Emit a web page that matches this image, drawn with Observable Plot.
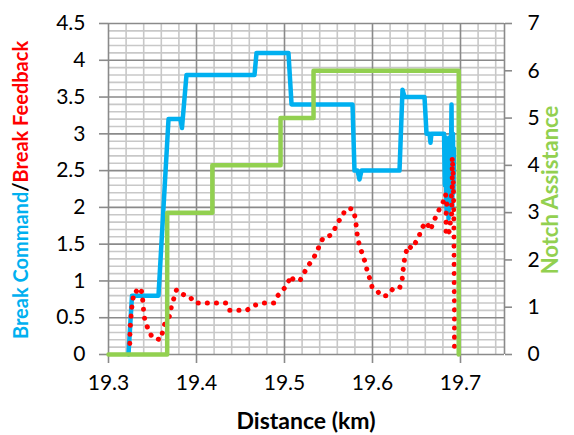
<!DOCTYPE html>
<html><head><meta charset="utf-8">
<script src="https://cdn.jsdelivr.net/npm/d3@7"></script>
<script src="https://cdn.jsdelivr.net/npm/@observablehq/plot@0.6"></script>
<style>
body{margin:0;background:#fff}
#chart{width:574px;height:435px}
</style>
</head><body><div id="chart"></div>
<script>
// ---- data ----
const commandKm = [19.3227,19.3267,19.3568,19.3682,19.3818,19.3835,19.3886,19.4659,19.4682,19.5045,19.5080,19.5773,19.5795,19.5830,19.5852,19.5875,19.6307,19.6341,19.6364,19.6591,19.6614,19.6648,19.6659,19.6670,19.6813,
  19.6822,19.6830,19.6841,19.6852,19.6864,19.6875,19.6886,19.6898,19.6906,19.6914,19.6920,19.6926];
const commandVal = [0,0.8,0.8,3.2,3.2,3.08,3.8,3.8,4.1,4.1,3.4,3.4,2.5,2.5,2.38,2.5,2.5,3.6,3.5,3.5,3.0,3.0,2.88,3.0,3.0,
  2.3,2.95,1.95,2.9,1.85,2.95,2.1,3.4,2.0,3.0,2.2,2.8];

const feedbackKm = [19.3242,19.3244,19.3250,19.3258,19.3269,19.3288,19.3307,19.3330,19.3352,19.3364,19.3375,
  19.3394,19.3401,19.3420,19.3458,19.3497,19.3591,19.3640,19.3697,19.3713,19.3742,19.3773,19.3818,19.3886,19.3920,
  19.3981,19.4094,19.4216,19.4341,19.4378,19.4455,19.4568,19.4659,19.4765,19.4878,19.4924,19.4985,19.5037,19.5068,
  19.5099,19.5174,19.5219,19.5265,19.5326,19.5364,19.5401,19.5440,19.5523,19.5560,19.5606,19.5656,19.5682,19.5731,
  19.5781,19.5807,19.5818,19.5833,19.5856,19.5909,19.5940,19.5969,19.5997,19.6053,19.6091,19.6159,19.6205,19.6242,
  19.6310,19.6338,19.6349,19.6364,19.6386,19.6401,19.6451,19.6477,19.6526,19.6553,19.6614,19.6659,19.6690,19.6735,
  19.6765,19.6810,19.6830,19.6849,19.6830,19.6841,19.6830,19.6878,19.6886,19.6906,19.6894,19.6906,19.6906,19.6906,
  19.6906,19.6915,19.6920,19.6924,19.6926,19.6928,19.6932,19.6932];
const feedbackVal = [0.15,0.28,0.42,0.55,0.69,0.82,0.87,0.85,0.88,0.84,0.86,
  0.69,0.55,0.43,0.33,0.23,0.2,0.42,0.53,0.64,0.76,0.88,0.83,0.8,0.79,
  0.7,0.7,0.7,0.7,0.6,0.6,0.6,0.67,0.7,0.7,0.8,0.88,0.96,1.07,
  1.02,1.0,1.1,1.2,1.3,1.39,1.49,1.59,1.62,1.68,1.8,1.87,1.95,1.99,
  1.97,1.84,1.71,1.57,1.47,1.28,1.14,1.03,0.91,0.87,0.8,0.8,0.85,0.91,
  0.91,1.03,1.16,1.3,1.41,1.48,1.44,1.5,1.59,1.71,1.8,1.69,1.8,1.91,
  1.99,2.09,2.18,2.0,1.87,1.73,1.62,1.68,1.82,1.96,2.12,2.27,2.41,2.54,
  2.68,2.5,2.2,1.91,1.5,1.0,0.5,0.0];

const notchKm = [19.3, 19.3667, 19.418, 19.4955, 19.533, 19.698];
const notchVal = [0, 3, 4, 5, 6, 0];

const xTicks = [19.3, 19.4, 19.5, 19.6, 19.7];
const leftTicks = [0, 0.5, 1, 1.5, 2, 2.5, 3, 3.5, 4, 4.5];
const rightTicks = [0, 1, 2, 3, 4, 5, 6, 7];

// ---- tables ----
const LMAX = 4.5, RMAX = 7;
const command = commandKm.map((x, i) => ({x, y: commandVal[i]}));
const feedback = feedbackKm.map((x, i) => ({x, y: feedbackVal[i]}));
const notch = notchKm.map((x, i) => ({x, y: notchVal[i]}));

const minorX = d3.range(0, 23).map(i => +(19.3 + i * 0.02).toFixed(2)).filter(v => Math.abs(v * 10 - Math.round(v * 10)) > 1e-6);
const minorY = d3.range(0, 46).map(i => +(i * 0.1).toFixed(1)).filter(v => Math.abs(v * 2 - Math.round(v * 2)) > 1e-6);
const majorX = [19.3, 19.4, 19.5, 19.6, 19.7];

const plot = Plot.plot({
  width: 574,
  height: 435,
  marginLeft: 108,
  marginRight: 70,
  marginTop: 23,
  marginBottom: 81,
  style: {fontFamily: "Lato, 'Open Sans', sans-serif", fontSize: "21px", background: "#fff", color: "#000"},
  x: {domain: [19.3, 19.75]},
  y: {domain: [0, LMAX]},
  marks: [
    Plot.ruleX(minorX, {stroke: "#c8c8c8", strokeWidth: 1.6}),
    Plot.ruleY(minorY, {stroke: "#c8c8c8", strokeWidth: 1.6}),
    Plot.ruleX(majorX, {stroke: "#8a8a8a", strokeWidth: 1.6}),
    Plot.ruleY(leftTicks, {stroke: "#8a8a8a", strokeWidth: 1.6}),
    Plot.ruleX([19.75], {stroke: "#8a8a8a", strokeWidth: 1.6}),
    Plot.axisX({ticks: xTicks, tickSize: 9, tickPadding: 12, stroke: "#8a8a8a", fill: "#000", strokeWidth: 1.6,
      tickFormat: d => d.toFixed(1), label: null, fontSize: 21}),
    Plot.axisY({ticks: leftTicks, tickSize: 9, tickPadding: 14, stroke: "#8a8a8a", fill: "#000", strokeWidth: 1.6,
      tickFormat: d => String(d), label: null, fontSize: 21}),
    Plot.axisY({anchor: "right", ticks: rightTicks.map(v => v * LMAX / RMAX), tickSize: 7, tickPadding: 16,
      stroke: "#8a8a8a", fill: "#000", strokeWidth: 1.6,
      tickFormat: d => String(Math.round(d * RMAX / LMAX)), label: null, fontSize: 21}),
    Plot.line(command, {x: "x", y: "y", stroke: "#00B0F0", strokeWidth: 4.5, strokeLinejoin: "round", strokeLinecap: "round"}),
    Plot.line(feedback, {x: "x", y: "y", stroke: "#FF0000", strokeWidth: 5, strokeLinecap: "round",
      strokeDasharray: "0.1 9"}),
    Plot.line(notch, {x: "x", y: d => d.y * LMAX / RMAX, curve: "step-after", stroke: "#92D050", strokeWidth: 4.5})
  ]
});
document.getElementById("chart").appendChild(plot);

const svg = d3.select(plot);
const lt = svg.append("text")
  .attr("transform", "translate(20,190) rotate(-90)")
  .attr("text-anchor", "middle")
  .attr("dominant-baseline", "central")
  .attr("font-weight", "bold")
  .attr("font-size", 20);
lt.append("tspan").attr("fill", "#00B0F0").text("Break Command");
lt.append("tspan").attr("fill", "#000").text("/");
lt.append("tspan").attr("fill", "#FF0000").text("Break Feedback");

svg.append("text")
  .attr("transform", "translate(549,190) rotate(-90)")
  .attr("text-anchor", "middle")
  .attr("dominant-baseline", "central")
  .attr("font-weight", "bold")
  .attr("font-size", 22)
  .attr("fill", "#92D050")
  .text("Notch Assistance");

svg.append("text")
  .attr("x", 306).attr("y", 429)
  .attr("text-anchor", "middle")
  .attr("font-weight", "bold")
  .attr("font-size", 23)
  .attr("fill", "#000")
  .text("Distance (km)");
</script>
</body></html>
